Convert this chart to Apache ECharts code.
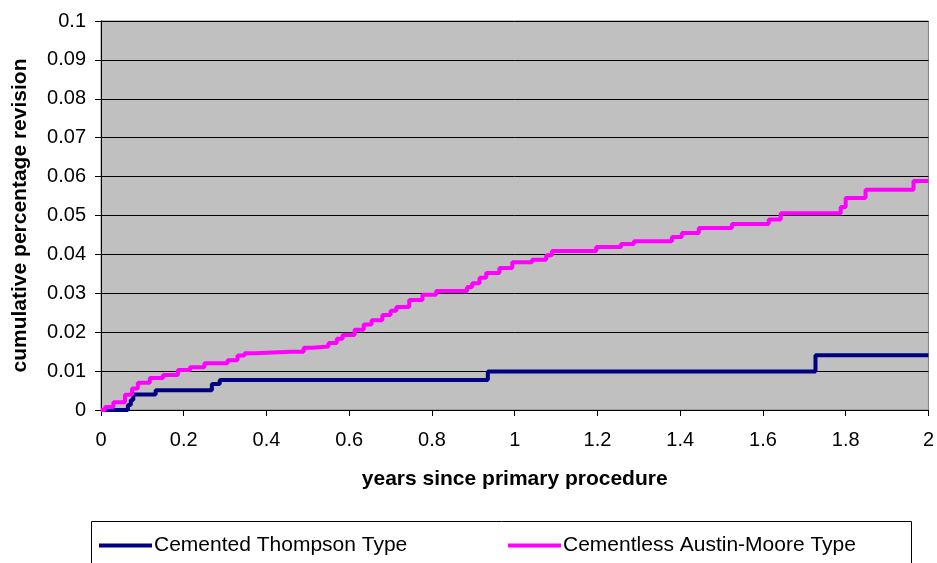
<!DOCTYPE html>
<html>
<head>
<meta charset="utf-8">
<script src="https://cdn.jsdelivr.net/npm/echarts@6/dist/echarts.min.js"></script>
<style>html,body{margin:0;padding:0;background:#fff}#c{width:937px;height:563px}</style>
</head>
<body>
<div id="c"></div>
<script>
var seriesNames = ['Cemented Thompson Type', 'Cementless Austin-Moore Type'];
var thompsonX = [0, 0.065, 0.072, 0.078, 0.132, 0.268, 0.287, 0.935, 1.727, 2];
var thompsonY = [0, 0.0013, 0.0026, 0.004, 0.0051, 0.0067, 0.0077, 0.0099, 0.0141, 0.0141];
var austinX = [0, 0.01, 0.03, 0.058, 0.075, 0.089, 0.118, 0.15, 0.186, 0.215, 0.25, 0.306, 0.33, 0.347, 0.37, 0.46, 0.49, 0.51, 0.55, 0.57, 0.584, 0.613, 0.635, 0.654, 0.68, 0.7, 0.714, 0.745, 0.777, 0.81, 0.873, 0.885, 0.897, 0.915, 0.931, 0.963, 0.994, 1.042, 1.076, 1.09, 1.197, 1.257, 1.288, 1.38, 1.404, 1.445, 1.525, 1.614, 1.643, 1.788, 1.8, 1.848, 1.964, 2];
var austinY = [0, 0.0008, 0.002, 0.0039, 0.0055, 0.007, 0.0082, 0.009, 0.0103, 0.011, 0.012, 0.0128, 0.014, 0.0146, 0.015, 0.015, 0.016, 0.0163, 0.0172, 0.0183, 0.0193, 0.0206, 0.022, 0.0231, 0.0244, 0.0255, 0.0265, 0.0283, 0.0296, 0.0306, 0.0306, 0.0316, 0.0326, 0.034, 0.0352, 0.0365, 0.038, 0.0386, 0.0398, 0.0409, 0.0419, 0.0427, 0.0434, 0.0445, 0.0455, 0.0468, 0.0478, 0.049, 0.0506, 0.0522, 0.0545, 0.0566, 0.0589, 0.0589];
var xTitle = 'years since primary procedure';
var yTitle = 'cumulative percentage revision';

function zip(a, b) { return a.map(function (v, i) { return [v, b[i]]; }); }

var font = 'Liberation Sans, Arial, sans-serif';
var legendBase = {
  top: 530, itemWidth: 53, itemHeight: 4,
  textStyle: {fontFamily: font, fontSize: 21, color: '#000', padding: [0, 0, 0, -3]}
};
var chart = echarts.init(document.getElementById('c'), null, {renderer: 'canvas'});
chart.setOption({
  animation: false,
  grid: {left: 101, right: 7, top: 21, bottom: 153, show: true, backgroundColor: '#C0C0C0', borderColor: '#808080', borderWidth: 1},
  xAxis: {
    type: 'value', min: 0, max: 2, interval: 0.2,
    name: xTitle, nameLocation: 'middle', nameGap: 59,
    nameTextStyle: {fontFamily: font, fontSize: 21, fontWeight: 'bold', color: '#000'},
    axisLine: {show: true, onZero: false, lineStyle: {color: '#000', width: 1}},
    axisTick: {show: true, inside: false, length: 6, lineStyle: {color: '#000'}},
    axisLabel: {fontFamily: font, fontSize: 20, color: '#000', margin: 20},
    splitLine: {show: false}
  },
  yAxis: {
    type: 'value', min: 0, max: 0.1, interval: 0.01,
    name: yTitle, nameLocation: 'middle', nameGap: 70,
    nameTextStyle: {fontFamily: font, fontSize: 21, fontWeight: 'bold', color: '#000'},
    axisLine: {show: true, lineStyle: {color: '#000', width: 1}},
    axisTick: {show: true, inside: false, length: 6, lineStyle: {color: '#000'}},
    axisLabel: {fontFamily: font, fontSize: 20, color: '#000', margin: 15},
    splitLine: {show: true, lineStyle: {color: '#000', width: 1}}
  },
  legend: [
    Object.assign({left: 94, data: [{name: seriesNames[0], icon: 'rect'}]}, legendBase),
    Object.assign({left: 503, data: [{name: seriesNames[1], icon: 'rect'}]}, legendBase)
  ],
  graphic: [{type: 'rect', shape: {x: 91.5, y: 521.5, width: 820, height: 60}, style: {fill: 'none', stroke: '#000', lineWidth: 1}, z: -1}],
  series: [
    {name: seriesNames[0], type: 'line', step: 'end', showSymbol: false, data: zip(thompsonX, thompsonY), lineStyle: {color: '#000080', width: 4}, itemStyle: {color: '#000080'}},
    {name: seriesNames[1], type: 'line', step: 'end', showSymbol: false, data: zip(austinX, austinY), lineStyle: {color: '#FF00FF', width: 4}, itemStyle: {color: '#FF00FF'}}
  ]
});
</script>
</body>
</html>
